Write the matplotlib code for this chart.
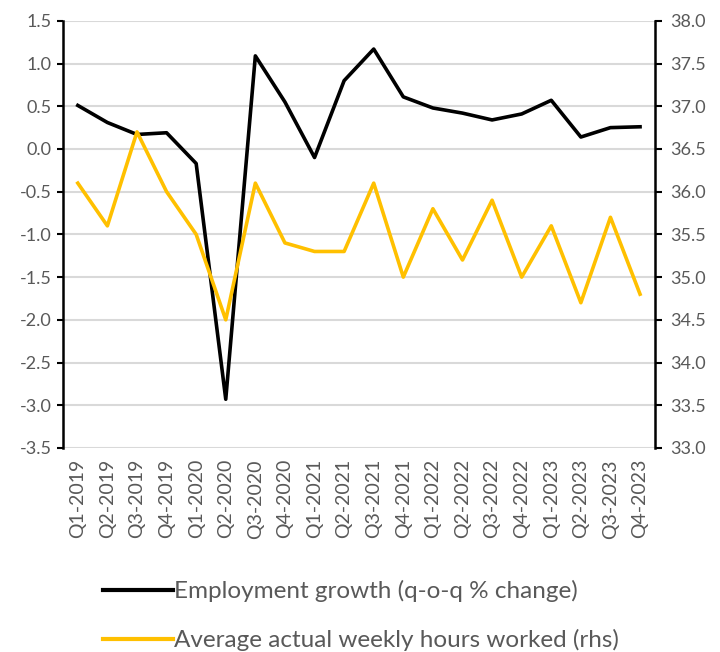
import matplotlib.pyplot as plt
from matplotlib.lines import Line2D

plt.rcParams['font.family'] = ['Lato', 'DejaVu Sans']

quarters = [f"Q{q}-{y}" for y in range(2019, 2024) for q in range(1, 5)]

employment_growth = [0.51, 0.31, 0.17, 0.19, -0.17, -2.93, 1.09, 0.55, -0.10, 0.80,
                     1.17, 0.61, 0.48, 0.42, 0.34, 0.41, 0.57, 0.14, 0.25, 0.26]
weekly_hours = [36.1, 35.6, 36.7, 36.0, 35.5, 34.5, 36.1, 35.4, 35.3, 35.3,
                36.1, 35.0, 35.8, 35.2, 35.9, 35.0, 35.6, 34.7, 35.7, 34.8]

left_ticks = [1.5, 1.0, 0.5, 0.0, -0.5, -1.0, -1.5, -2.0, -2.5, -3.0, -3.5]
right_ticks = [38.0, 37.5, 37.0, 36.5, 36.0, 35.5, 35.0, 34.5, 34.0, 33.5, 33.0]

black = '#000000'
gold = '#FFC000'
grid = '#D9D9D9'
text = '#595959'

fig = plt.figure(figsize=(7.2, 6.52), dpi=100)
ax = fig.add_axes([0.0875, 0.313, 0.822, 0.655])
ax2 = ax.twinx()

x = list(range(len(quarters)))

for t in left_ticks:
    ax.axhline(t, color=grid, lw=1.5, zorder=0)

ax.plot(x, employment_growth, color=black, lw=2.6, zorder=3)
ax2.plot(x, weekly_hours, color=gold, lw=2.6, zorder=2)

ax.set_xlim(-0.5, len(quarters) - 0.5)
ax.set_ylim(-3.5, 1.5)
ax2.set_ylim(33.0, 38.0)
ax.set_yticks(left_ticks)
ax.set_yticklabels([f"{t:.1f}" for t in left_ticks])
ax2.set_yticks(right_ticks)
ax2.set_yticklabels([f"{t:.1f}" for t in right_ticks])

ax.set_xticks(x)
ax.set_xticklabels(quarters, rotation=90)
ax.tick_params(axis='x', length=0, pad=8, labelsize=14, labelcolor=text)
ax.tick_params(axis='y', direction='out', length=4, width=1.5, color=black,
               labelsize=13, labelcolor=text, pad=4)
ax2.tick_params(axis='y', direction='out', length=5, width=1.5, color=black,
                labelsize=13, labelcolor=text, pad=6)

for a in (ax, ax2):
    for side in ('top', 'bottom', 'left', 'right'):
        a.spines[side].set_visible(False)
ax.spines['left'].set_visible(True)
ax.spines['left'].set_linewidth(1.8)
ax2.spines['right'].set_visible(True)
ax2.spines['right'].set_linewidth(1.8)

handles = [Line2D([], [], color=black, lw=3),
           Line2D([], [], color=gold, lw=3)]
labels = ['Employment growth (q-o-q % change)',
          'Average actual weekly hours worked (rhs)']
fig.legend(handles, labels, loc='upper left', bbox_to_anchor=(0.13, 0.125),
           frameon=False, fontsize=17.5, labelcolor=text, handlelength=2.85,
           handletextpad=0.05, labelspacing=1.1, borderaxespad=0)

fig.savefig('out.png', dpi=100)
